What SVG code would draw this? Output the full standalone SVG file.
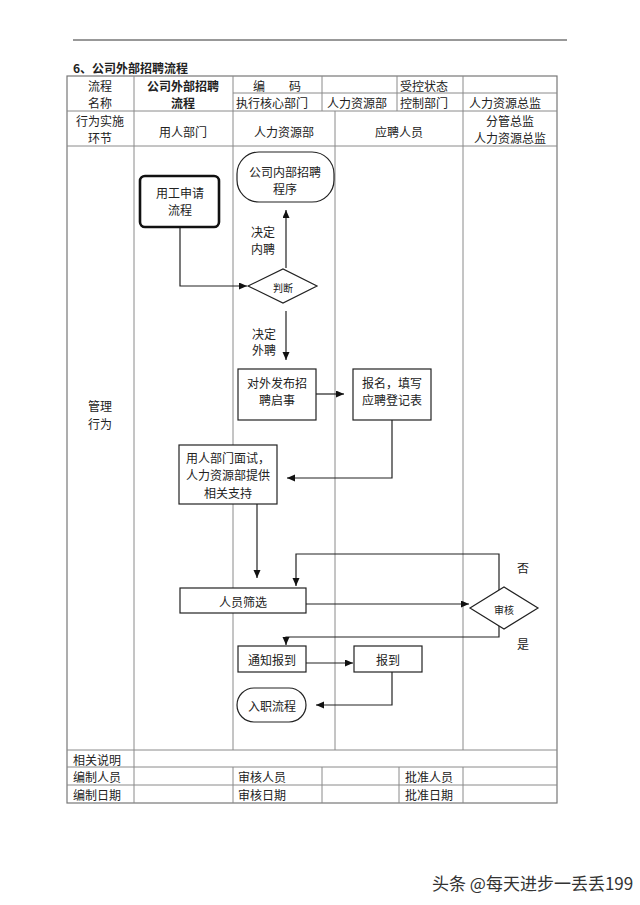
<svg xmlns="http://www.w3.org/2000/svg" width="640" height="905" viewBox="0 0 640 905">
<style>
text{font-family:"Noto Sans CJK SC","Liberation Sans",sans-serif;font-size:12px;fill:#222;dominant-baseline:central}
.c{text-anchor:middle}
.b{font-weight:bold}
.tb{stroke:#8a8a8a;stroke-width:1;fill:none}
.ob{stroke:#777;stroke-width:1.2;fill:none}
.nd{fill:#fff;stroke:#222;stroke-width:1.2}
.ln{fill:none;stroke:#222;stroke-width:1.2;marker-end:url(#ah)}
.sm{font-size:10px}
</style>
<defs>
<marker id="ah" markerUnits="userSpaceOnUse" markerWidth="9" markerHeight="8" refX="8" refY="3.5" orient="auto">
<path d="M0,0 L8,3.5 L0,7 z" fill="#111"/>
</marker>
</defs>
<rect width="640" height="905" fill="#fff"/>
<line x1="73" y1="40" x2="567" y2="40" stroke="#333" stroke-width="1"/>
<text x="73" y="67" class="b">6、公司外部招聘流程</text>

<g id="table">
<rect x="67" y="76" width="490" height="727" class="ob"/>
<line x1="233" y1="93" x2="557" y2="93" class="tb"/>
<line x1="67" y1="111" x2="557" y2="111" class="tb"/>
<line x1="67" y1="146" x2="557" y2="146" class="tb"/>
<line x1="67" y1="750" x2="557" y2="750" class="tb"/>
<line x1="67" y1="767" x2="557" y2="767" class="tb"/>
<line x1="67" y1="785" x2="557" y2="785" class="tb"/>
<line x1="134" y1="76" x2="134" y2="803" class="tb"/>
<line x1="233" y1="76" x2="233" y2="111" class="tb"/>
<line x1="322" y1="76" x2="322" y2="111" class="tb"/>
<line x1="397" y1="76" x2="397" y2="111" class="tb"/>
<line x1="463" y1="76" x2="463" y2="111" class="tb"/>
<line x1="233" y1="111" x2="233" y2="750" class="tb"/>
<line x1="335" y1="111" x2="335" y2="750" class="tb"/>
<line x1="463" y1="111" x2="463" y2="750" class="tb"/>
<line x1="233" y1="767" x2="233" y2="803" class="tb"/>
<line x1="322" y1="767" x2="322" y2="803" class="tb"/>
<line x1="399" y1="767" x2="399" y2="803" class="tb"/>
<line x1="463" y1="767" x2="463" y2="803" class="tb"/>
<text x="100" y="85" class="c">流程</text>
<text x="100" y="102" class="c">名称</text>
<text x="183" y="85" class="c b">公司外部招聘</text>
<text x="183" y="102" class="c b">流程</text>
<text x="277" y="85" class="c">编　　码</text>
<text x="400" y="85">受控状态</text>
<text x="236" y="102">执行核心部门</text>
<text x="327" y="102">人力资源部</text>
<text x="400" y="102">控制部门</text>
<text x="469" y="102">人力资源总监</text>
<text x="100" y="120" class="c">行为实施</text>
<text x="100" y="137" class="c">环节</text>
<text x="183" y="131" class="c">用人部门</text>
<text x="284" y="131" class="c">人力资源部</text>
<text x="399" y="131" class="c">应聘人员</text>
<text x="510" y="120" class="c">分管总监</text>
<text x="510" y="137" class="c">人力资源总监</text>
<text x="100" y="405" class="c">管理</text>
<text x="100" y="423" class="c">行为</text>
<text x="73" y="759">相关说明</text>
<text x="73" y="776">编制人员</text>
<text x="73" y="794">编制日期</text>
<text x="238" y="776">审核人员</text>
<text x="238" y="794">审核日期</text>
<text x="405" y="776">批准人员</text>
<text x="405" y="794">批准日期</text>
</g>

<g id="connectors">
<polyline points="180,227 180,286 247,286" class="ln"/>
<polyline points="286,268 286,210" class="ln"/>
<polyline points="286,311 286,360" class="ln"/>
<polyline points="316,394 344,394" class="ln"/>
<polyline points="392,420 392,478 287,478" class="ln"/>
<polyline points="257,504 257,578" class="ln"/>
<polyline points="306,604 469,604" class="ln"/>
<polyline points="499,590 499,554 296,554 296,586" class="ln"/>
<polyline points="499,626 499,637 286,637 286,645" class="ln"/>
<polyline points="306,663 353,663" class="ln"/>
<polyline points="392,672 392,705 316,705" class="ln"/>
<text x="251" y="231">决定</text>
<text x="251" y="248">内聘</text>
<text x="252" y="333">决定</text>
<text x="252" y="349">外聘</text>
<text x="517" y="567">否</text>
<text x="517" y="643">是</text>
</g>

<g id="n1">
<rect x="140" y="176" width="79" height="51" rx="5" fill="#fff" stroke="#111" stroke-width="2.6"/>
<text x="180" y="192" class="c">用工申请</text>
<text x="180" y="209" class="c">流程</text>
</g>
<g id="n2">
<rect x="237" y="152" width="97" height="50" rx="22" class="nd"/>
<text x="285" y="171" class="c">公司内部招聘</text>
<text x="285" y="188" class="c">程序</text>
</g>
<g id="n3">
<polygon points="248,286 283,269 317,286 283,303" class="nd"/>
<text x="283" y="287" class="c sm">判断</text>
</g>
<g id="n4">
<rect x="238" y="369" width="78" height="51" class="nd"/>
<text x="277" y="382" class="c">对外发布招</text>
<text x="277" y="399" class="c">聘启事</text>
</g>
<g id="n5">
<rect x="353" y="369" width="78" height="51" class="nd"/>
<text x="392" y="382" class="c">报名，填写</text>
<text x="392" y="399" class="c">应聘登记表</text>
</g>
<g id="n6">
<rect x="179" y="445" width="98" height="59" class="nd"/>
<text x="228" y="457" class="c">用人部门面试，</text>
<text x="228" y="474" class="c">人力资源部提供</text>
<text x="228" y="492" class="c">相关支持</text>
</g>
<g id="n7">
<rect x="180" y="588" width="126" height="25" class="nd"/>
<text x="243" y="601" class="c">人员筛选</text>
</g>
<g id="n8">
<polygon points="470,608 504,587 538,608 504,629" class="nd"/>
<text x="504" y="609" class="c sm">审核</text>
</g>
<g id="n9">
<rect x="238" y="646" width="68" height="26" class="nd"/>
<text x="272" y="659" class="c">通知报到</text>
</g>
<g id="n10">
<rect x="354" y="646" width="68" height="26" class="nd"/>
<text x="388" y="659" class="c">报到</text>
</g>
<g id="n11">
<rect x="237" y="688" width="69" height="34" rx="17" class="nd"/>
<text x="272" y="705" class="c">入职流程</text>
</g>

<text x="432" y="882" style="font-size:17px;fill:#333">头条 @每天进步一丢丢199</text>
</svg>
